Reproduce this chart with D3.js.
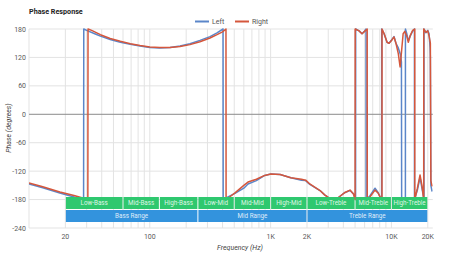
<!DOCTYPE html>
<html>
<head>
<meta charset="utf-8">
<script src="https://cdn.jsdelivr.net/npm/d3@7"></script>
<style>
  body { margin: 0; background: #fff; }
  svg { font-family: Roboto, "Noto Sans", sans-serif; }
  .grid line { stroke: #e3e3e3; stroke-width: 1; }
  .tick-label { font-size: 7px; fill: #5a5a5a; }
  .band-label { font-size: 6.3px; fill: #fff; fill-opacity: 0.85; text-anchor: middle; }
</style>
</head>
<body>
<svg width="450" height="260"></svg>
<script>
//* Data
const leftPhase = [
	[10, -147], [13, -155], [18, -166], [24, -175], [28.3, -180], [28.4, 180],
	[30, 177], [35, 170], [39, 165], [47, 158], [57, 152], [69, 148], [83, 144],
	[100, 141], [121, 140], [147, 141], [178, 144], [215, 149], [260, 156],
	[315, 164], [360, 172], [404, 180], [405, -180], [440, -175], [507, -167],
	[600, -156], [650, -147], [762, -140], [893, -129], [1005, -126], [1200, -127],
	[1470, -134], [1800, -139], [1950, -140], [2110, -148], [2564, -161],
	[2800, -170], [3100, -178], [3500, -179], [3754, -173], [4129, -165],
	[4543, -161], [4850, -168], [5050, -180], [5060, 180], [5400, 176],
	[5710, 170], [6000, 176], [6160, 180], [6170, -180], [6650, -172],
	[7314, -156], [7746, -165], [8200, -179], [8300, -180], [8310, 180],
	[8700, 170], [9200, 152], [9550, 150], [10100, 158], [10500, 164],
	[10900, 150], [11400, 140], [11900, 125], [12100, 110], [12150, -180],
	[12700, -178], [13050, -180], [13060, 180], [13400, 170], [13800, 155],
	[14300, 165], [15000, 176], [15500, 180], [15510, -180], [16400, -160],
	[17250, -133], [18000, -160], [18600, -180], [18610, 180], [19300, 172],
	[20000, 177], [20500, 170], [20900, 140], [21000, 120], [21200, -150],
	[21700, -163]
];
const rightPhase = [
	[10, -145], [13, -153], [18, -164], [24, -172], [30.7, -180], [30.8, 180],
	[33, 177], [39, 168], [47, 160], [57, 154], [69, 149], [83, 145], [100, 142],
	[121, 141], [147, 141], [178, 143], [215, 147], [260, 153], [315, 161],
	[360, 168], [400, 174], [427, 180], [428, -180], [460, -174], [507, -166],
	[600, -150], [650, -143], [762, -137], [893, -129], [1005, -126], [1200, -127],
	[1470, -134], [1800, -137], [1950, -139], [2110, -147], [2564, -161],
	[2800, -170], [3100, -178], [3500, -179], [3754, -173], [4129, -165],
	[4543, -160], [4850, -168], [5000, -180], [5010, 180], [5400, 176],
	[5710, 170], [6000, 175], [6300, 180], [6310, -180], [6650, -174],
	[7314, -160], [7746, -166], [8200, -178], [8350, -180], [8360, 180],
	[8700, 170], [9200, 152], [9550, 150], [10100, 157], [10500, 163],
	[10900, 150], [11400, 128], [11800, 100], [12100, 130], [12500, 170],
	[12900, 175], [13400, 165], [13800, 152], [14300, 166], [15000, 177],
	[15600, 180], [15610, -180], [16400, -156], [17250, -128], [18000, -155],
	[18500, -180], [18510, 180], [19300, 173], [20000, 176], [20500, 165],
	[21000, 150], [21200, -140], [21700, -152]
];

const yTicks = [180, 120, 60, 0, -60, -120, -180, -240];
const xTickValues = [20, 100, 1000, 2000, 10000, 20000];
const xTickLabels = ["20", "100", "1K", "2K", "10K", "20K"];

const bandNames = ["Low-Bass", "Mid-Bass", "High-Bass", "Low-Mid", "Mid-Mid", "High-Mid", "Low-Treble", "Mid-Treble", "High-Treble"];
const bandEdges = [20, 60, 120, 250, 500, 1000, 2000, 5000, 10000, 20000];
const rangeNames = ["Bass Range", "Mid Range", "Treble Range"];
const rangeEdges = [20, 250, 2000, 20000];

const seriesNames = ["Left", "Right"];
const seriesColors = ["#5b86c9", "#d5573c"];

//* Setup
const svg = d3.select("svg");
const x = d3.scaleLog().domain([10, 22000]).range([29, 432.8]);
const y = d3.scaleLinear().domain([-240, 180]).range([228, 29]);

//* Grid
const grid = svg.append("g").attr("class", "grid");
const logTicks = [];
[10, 100, 1000, 10000].forEach((d) => {
	for (let k = 1; k <= 9; k++) if (d * k <= 20000) logTicks.push(d * k);
});
grid.selectAll("line.v")
	.data(logTicks)
	.enter()
	.append("line")
	.attr("x1", (d) => x(d))
	.attr("x2", (d) => x(d))
	.attr("y1", y(180))
	.attr("y2", y(-240));
grid.selectAll("line.h")
	.data(yTicks)
	.enter()
	.append("line")
	.attr("x1", x(10))
	.attr("x2", x(22000))
	.attr("y1", (d) => y(d))
	.attr("y2", (d) => y(d))
	.style("stroke", (d) => (d === 0 ? "#8a8a8a" : null));

//* Y tick labels
svg.selectAll("text.ytick")
	.data(yTicks)
	.enter()
	.append("text")
	.attr("class", "tick-label")
	.attr("x", 26)
	.attr("y", (d) => y(d) + 2.5)
	.attr("text-anchor", "end")
	.text((d) => d);

//* X tick labels
svg.selectAll("text.xtick")
	.data(xTickValues)
	.enter()
	.append("text")
	.attr("class", "tick-label")
	.attr("x", (d) => x(d))
	.attr("y", 239)
	.attr("text-anchor", "middle")
	.text((_, i) => xTickLabels[i]);

//* Lines
svg.append("clipPath")
	.attr("id", "plot")
	.append("rect")
	.attr("x", x(10))
	.attr("y", y(180) - 2)
	.attr("width", x(22000) - x(10))
	.attr("height", y(-240) - y(180) + 2);

const line = d3.line()
	.x((d) => x(d[0]))
	.y((d) => y(d[1]));

svg.append("g")
	.attr("clip-path", "url(#plot)")
	.selectAll("path")
	.data([leftPhase, rightPhase])
	.enter()
	.append("path")
	.attr("d", line)
	.attr("fill", "none")
	.attr("stroke", (_, i) => seriesColors[i])
	.attr("stroke-width", 1.5)
	.attr("stroke-linejoin", "round");

//* Band boxes
const bands = svg.append("g");
bands.selectAll("rect.band")
	.data(bandNames)
	.enter()
	.append("rect")
	.attr("x", (_, i) => x(bandEdges[i]) + 0.5)
	.attr("y", 197)
	.attr("width", (_, i) => x(bandEdges[i + 1]) - x(bandEdges[i]) - 1)
	.attr("height", 12)
	.attr("fill", "#2fc86f");
bands.selectAll("text.band")
	.data(bandNames)
	.enter()
	.append("text")
	.attr("class", "band-label")
	.attr("x", (_, i) => (x(bandEdges[i]) + x(bandEdges[i + 1])) / 2)
	.attr("y", 205.3)
	.text((d) => d);
bands.selectAll("rect.range")
	.data(rangeNames)
	.enter()
	.append("rect")
	.attr("x", (_, i) => x(rangeEdges[i]) + 0.5)
	.attr("y", 210)
	.attr("width", (_, i) => x(rangeEdges[i + 1]) - x(rangeEdges[i]) - 1)
	.attr("height", 12)
	.attr("fill", "#3393dd");
bands.selectAll("text.range")
	.data(rangeNames)
	.enter()
	.append("text")
	.attr("class", "band-label")
	.attr("x", (_, i) => (x(rangeEdges[i]) + x(rangeEdges[i + 1])) / 2)
	.attr("y", 218.3)
	.text((d) => d);

//* Title and axis titles
svg.append("text")
	.attr("x", 29)
	.attr("y", 14)
	.style("font-size", "7.2px")
	.style("font-weight", "bold")
	.style("fill", "#222")
	.text("Phase Response");
svg.append("text")
	.attr("transform", "translate(11,128) rotate(-90)")
	.attr("text-anchor", "middle")
	.style("font-size", "7px")
	.style("font-style", "italic")
	.style("fill", "#444")
	.text("Phase (degrees)");
svg.append("text")
	.attr("x", 240)
	.attr("y", 250)
	.attr("text-anchor", "middle")
	.style("font-size", "7px")
	.style("font-style", "italic")
	.style("fill", "#444")
	.text("Frequency (Hz)");

//* Legend
const legendX = [195, 235];
const legend = svg.selectAll("g.legend")
	.data(seriesNames)
	.enter()
	.append("g")
	.attr("transform", (_, i) => `translate(${legendX[i]}, 21.5)`);
legend.append("line")
	.attr("x1", 0)
	.attr("x2", 14)
	.attr("stroke", (_, i) => seriesColors[i])
	.attr("stroke-width", 2);
legend.append("text")
	.attr("x", 17)
	.attr("y", 2.5)
	.style("font-size", "7px")
	.style("fill", "#555")
	.text((d) => d);
</script>
</body>
</html>
